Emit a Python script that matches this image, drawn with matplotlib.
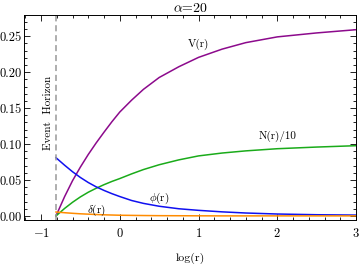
import numpy as np
import matplotlib
matplotlib.use('Agg')
import matplotlib.pyplot as plt
from matplotlib.ticker import MultipleLocator, FormatStrFormatter

plt.rcParams['font.family'] = 'serif'
plt.rcParams['font.serif'] = ['cmr10']
plt.rcParams['mathtext.fontset'] = 'cm'
plt.rcParams['axes.formatter.use_mathtext'] = True

# values
logr = [-0.81, -0.7, -0.6, -0.5, -0.4, -0.3, -0.2, -0.1, 0.0, 0.15, 0.3,
        0.5, 0.75, 1.0, 1.3, 1.6, 2.0, 2.5, 3.0]
V = [0.0, 0.027, 0.049, 0.068, 0.0855, 0.1015, 0.1165, 0.131, 0.1445, 0.161, 0.176,
     0.1925, 0.2075, 0.2205, 0.232, 0.241, 0.249, 0.2545, 0.259]
N10 = [0.0, 0.0105, 0.019, 0.0265, 0.033, 0.0385, 0.0435, 0.048, 0.052, 0.0585, 0.0645,
       0.0712, 0.078, 0.0835, 0.0875, 0.0905, 0.0935, 0.0958, 0.0977]
phi = [0.081, 0.0705, 0.0615, 0.0535, 0.0465, 0.0405, 0.0355, 0.031, 0.027, 0.0215, 0.0175,
       0.0135, 0.0100, 0.0078, 0.0057, 0.0041, 0.0027, 0.0017, 0.0012]
delta = [0.0055, 0.0045, 0.0037, 0.003, 0.0025, 0.002, 0.0016, 0.0013, 0.001, 0.0008, 0.0006,
         0.0004, 0.0003, 0.0002, 0.0001, 0.0001, 0.0001, 0.0001, 0.0001]
horizon = -0.81

fig = plt.figure(figsize=(3.6, 2.64), dpi=100)
ax = fig.add_axes([0.068, 0.167, 0.921, 0.775])

ax.plot(logr, V, color='#8c0a8c', lw=1.1)
ax.plot(logr, N10, color='#1aab1a', lw=1.1)
ax.plot(logr, phi, color='#1010f0', lw=1.1)
ax.plot(logr, delta, color='#ff8c00', lw=1.1)
ax.axvline(horizon, color='#999999', ls=(0, (4, 2.5)), lw=1.1)

ax.text(0.995, 0.239, 'V(r)', fontsize=8, ha='center', va='center')
ax.text(2.01, 0.11, 'N(r)/10', fontsize=8, ha='center', va='center')
ax.text(0.5, 0.025, r'$\phi$(r)', fontsize=8, ha='center', va='center')
ax.text(-0.30, 0.008, r'$\delta$(r)', fontsize=8, ha='center', va='center')
ax.text(-0.91, 0.144, 'Event  Horizon', fontsize=8, rotation=90, ha='center', va='center')

ax.set_xlim(-1.21, 3.0)
ax.set_ylim(-0.0055, 0.279)
ax.set_title(r'$\alpha$=20', fontsize=10, pad=2)
ax.set_xlabel('log(r)', fontsize=8.5, labelpad=9)

ax.xaxis.set_major_locator(MultipleLocator(1))
ax.xaxis.set_minor_locator(MultipleLocator(0.2))
ax.yaxis.set_major_locator(MultipleLocator(0.05))
ax.yaxis.set_minor_locator(MultipleLocator(0.01))
ax.yaxis.set_major_formatter(FormatStrFormatter('%.2f'))
ax.tick_params(which='both', direction='in', top=True, right=True, labelsize=9, width=0.6)
ax.tick_params(which='major', length=4)
ax.tick_params(which='minor', length=2)
ax.tick_params(axis='x', which='major', pad=5)
ax.tick_params(axis='y', which='major', pad=2)
for s in ax.spines.values():
    s.set_linewidth(0.7)

fig.savefig('out.png', dpi=100)
